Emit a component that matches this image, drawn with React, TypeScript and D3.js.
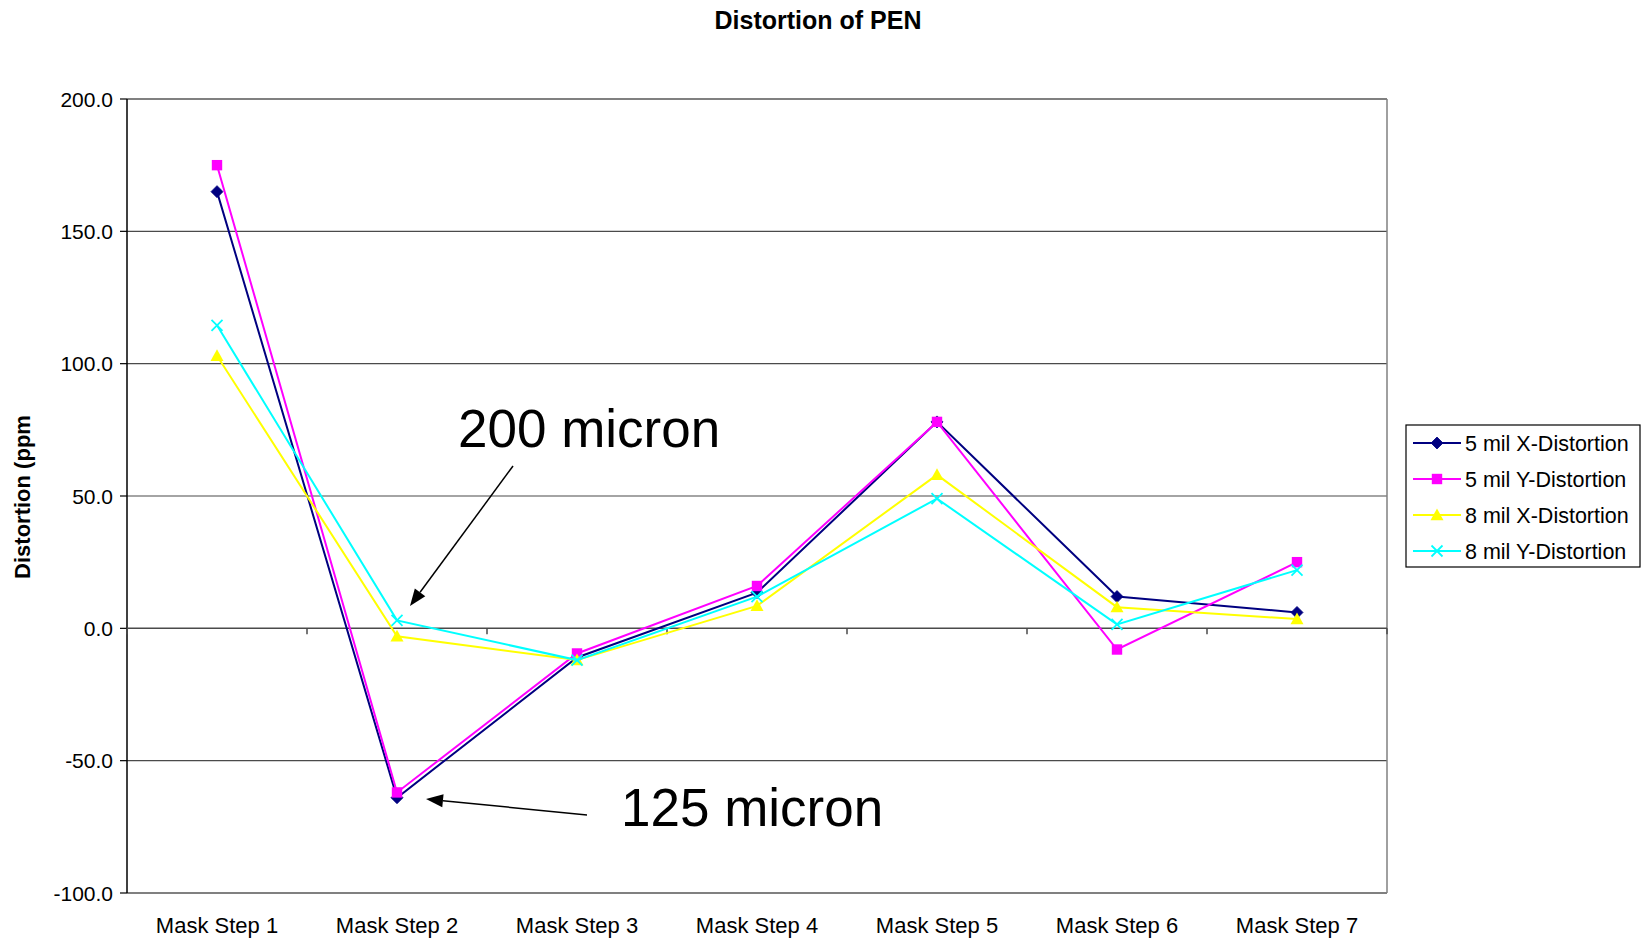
import React from "react";
import * as d3 from "d3";

const categories = ["Mask Step 1", "Mask Step 2", "Mask Step 3", "Mask Step 4", "Mask Step 5", "Mask Step 6", "Mask Step 7"];
const yTicks = [-100, -50, 0, 50, 100, 150, 200];

const x5mil = [165, -64, -11, 13.5, 78, 12, 6];
const y5mil = [175, -62, -9.5, 16, 78, -8, 25];
const x8mil = [103, -3, -12, 8.5, 58, 8, 3.5];
const y8mil = [114.5, 3, -12, 12, 49, 1.5, 22];

const seriesNames = ["5 mil X-Distortion", "5 mil Y-Distortion", "8 mil X-Distortion", "8 mil Y-Distortion"];
const seriesColors = ["#000080", "#FF00FF", "#FFFF00", "#00FFFF"];
const seriesMarkers = ["diamond", "square", "triangle", "cross"];
const seriesValues = [x5mil, y5mil, x8mil, y8mil];

const FONT = "'Liberation Sans', Arial, Helvetica, sans-serif";

function Marker({ type, cx, cy, color }: { type: string; cx: number; cy: number; color: string }) {
  if (type === "diamond") {
    const r = 6;
    return <path d={`M${cx},${cy - r}L${cx + r},${cy}L${cx},${cy + r}L${cx - r},${cy}Z`} fill={color} stroke={color} strokeWidth={0.8} />;
  }
  if (type === "square") {
    const r = 5.2;
    return <rect x={cx - r} y={cy - r} width={2 * r} height={2 * r} fill={color} />;
  }
  if (type === "triangle") {
    const r = 6.5;
    return <path d={`M${cx},${cy - r}L${cx + r},${cy + r * 0.8}L${cx - r},${cy + r * 0.8}Z`} fill={color} />;
  }
  const r = 5.5;
  return (
    <g stroke={color} strokeWidth={1.8}>
      <line x1={cx - r} y1={cy - r} x2={cx + r} y2={cy + r} />
      <line x1={cx - r} y1={cy + r} x2={cx + r} y2={cy - r} />
    </g>
  );
}

export default function App() {
  const left = 127, right = 1387, top = 99, bottom = 893;
  const x = d3.scaleBand<string>().domain(categories).range([left, right]).padding(0);
  const y = d3.scaleLinear().domain([-100, 200]).range([bottom, top]);
  const cx = (c: string) => (x(c) as number) + x.bandwidth() / 2;
  const line = d3.line<number>().x((_, i) => cx(categories[i])).y((d) => y(d));
  const y0 = y(0);

  const legendX = 1406, legendY = 425, legendW = 234, legendH = 142;

  return (
    <svg width={1650} height={940} style={{ position: "absolute", left: 0, top: 0, background: "#fff" }} fontFamily={FONT}>
      <rect x={0} y={0} width={1650} height={940} fill="#fff" />
      <text x={818} y={29} textAnchor="middle" fontSize={25} fontWeight="bold">Distortion of PEN</text>

      {/* gridlines */}
      {yTicks.filter((t) => t !== -100 && t !== 200 && t !== 0).map((t) => (
        <line key={t} x1={left} x2={right} y1={y(t)} y2={y(t)} stroke="#4a4a4a" strokeWidth={1.2} />
      ))}
      {/* plot border */}
      <line x1={left} x2={right} y1={top} y2={top} stroke="#808080" strokeWidth={2} />
      <line x1={right} x2={right} y1={top} y2={bottom} stroke="#808080" strokeWidth={1.5} />
      <line x1={left} x2={right} y1={bottom} y2={bottom} stroke="#808080" strokeWidth={2} />
      {/* y axis */}
      <line x1={left} x2={left} y1={top} y2={bottom} stroke="#000" strokeWidth={1.5} />
      {yTicks.map((t) => (
        <g key={t}>
          <line x1={left - 7} x2={left} y1={y(t)} y2={y(t)} stroke="#000" strokeWidth={1.2} />
          <text x={113} y={y(t)} dy="0.36em" textAnchor="end" fontSize={21}>{t.toFixed(1)}</text>
        </g>
      ))}
      {/* x axis at zero */}
      <line x1={left} x2={right} y1={y0} y2={y0} stroke="#4a4a4a" strokeWidth={1.5} />
      {[...categories.map((c) => x(c) as number), right].map((px, i) => (
        <line key={i} x1={px} x2={px} y1={y0} y2={y0 + 6} stroke="#4a4a4a" strokeWidth={1.5} />
      ))}
      {categories.map((c) => (
        <text key={c} x={cx(c)} y={933} textAnchor="middle" fontSize={22}>{c}</text>
      ))}
      <text transform={`translate(30,497) rotate(-90)`} textAnchor="middle" fontSize={22} fontWeight="bold">Distortion (ppm</text>

      {/* series */}
      {seriesValues.map((vals, si) => (
        <g key={si}>
          <path d={line(vals) as string} fill="none" stroke={seriesColors[si]} strokeWidth={2} />
          {vals.map((v, i) => (
            <Marker key={i} type={seriesMarkers[si]} cx={cx(categories[i])} cy={y(v)} color={seriesColors[si]} />
          ))}
        </g>
      ))}

      {/* annotations */}
      <text x={458} y={447} fontSize={53}>200 micron</text>
      <text x={621} y={826} fontSize={53}>125 micron</text>
      {[
        { x1: 513, y1: 466, x2: 410, y2: 606 },
        { x1: 587, y1: 815, x2: 426, y2: 799 },
      ].map((a, i) => {
        const ang = Math.atan2(a.y2 - a.y1, a.x2 - a.x1);
        const L = 17, W = 6.5;
        const bx = a.x2 - L * Math.cos(ang), by = a.y2 - L * Math.sin(ang);
        const px = -Math.sin(ang) * W, py = Math.cos(ang) * W;
        return (
          <g key={i}>
            <line x1={a.x1} y1={a.y1} x2={bx} y2={by} stroke="#000" strokeWidth={1.5} />
            <path d={`M${a.x2},${a.y2}L${bx + px},${by + py}L${bx - px},${by - py}Z`} fill="#000" />
          </g>
        );
      })}

      {/* legend */}
      <rect x={legendX} y={legendY} width={legendW} height={legendH} fill="#fff" stroke="#000" strokeWidth={1.2} />
      {seriesNames.map((n, i) => {
        const ly = 443 + i * 36;
        return (
          <g key={n}>
            <line x1={1413} x2={1461} y1={ly} y2={ly} stroke={seriesColors[i]} strokeWidth={2} />
            <Marker type={seriesMarkers[i]} cx={1437} cy={ly} color={seriesColors[i]} />
            <text x={1465} y={ly} dy="0.36em" fontSize={21.5}>{n}</text>
          </g>
        );
      })}
    </svg>
  );
}
